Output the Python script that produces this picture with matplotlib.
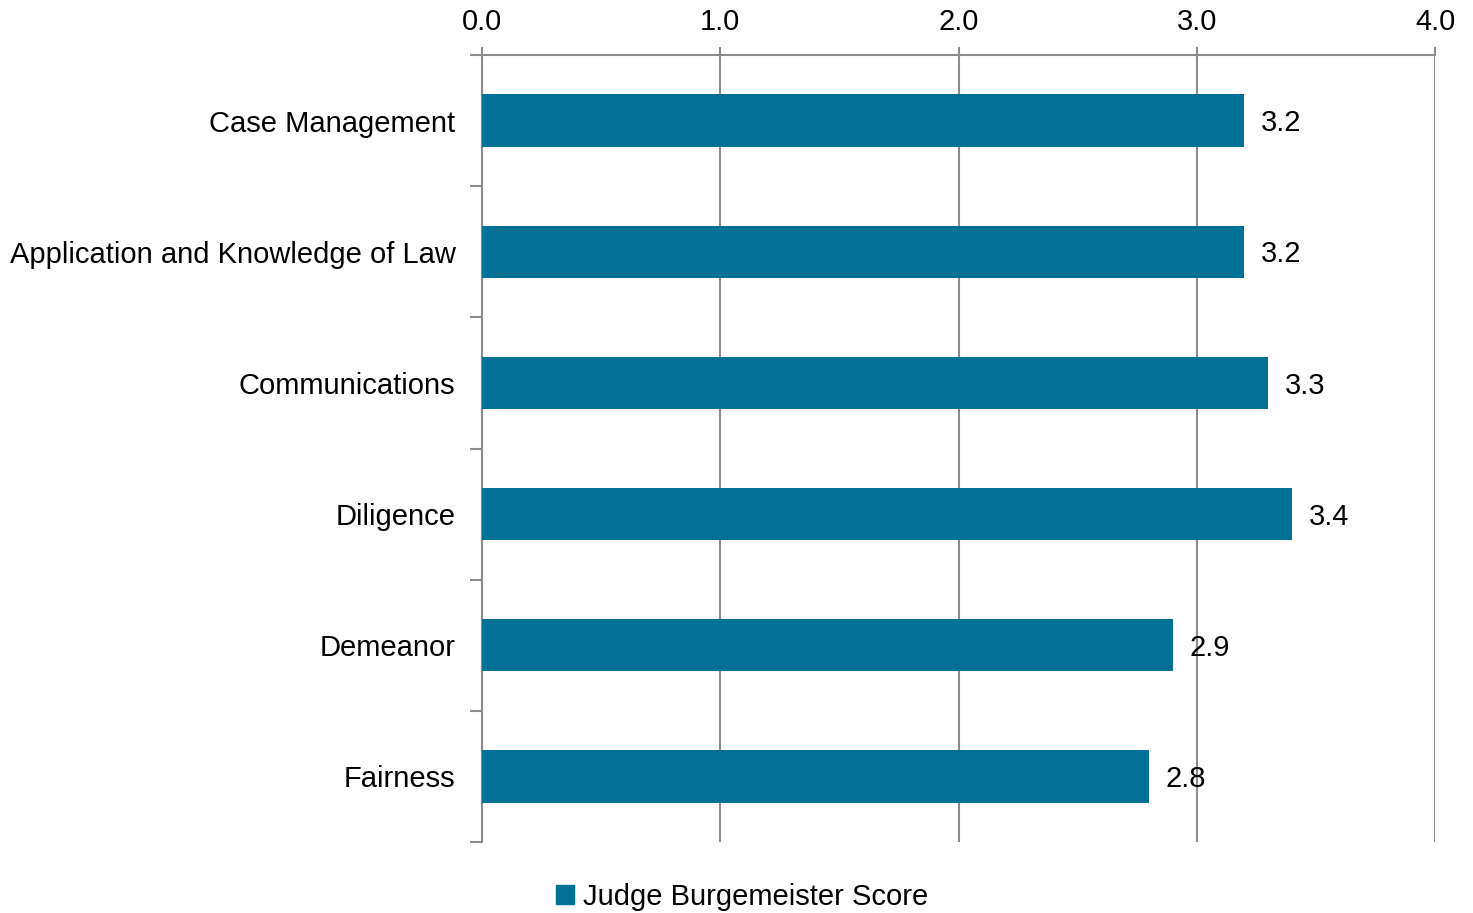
import matplotlib.pyplot as plt
from matplotlib.patches import Patch
import numpy as np

plt.rcParams['font.family'] = ['Liberation Sans', 'DejaVu Sans']

categories = ['Case Management', 'Application and Knowledge of Law', 'Communications',
              'Diligence', 'Demeanor', 'Fairness']
scores = [3.2, 3.2, 3.3, 3.4, 2.9, 2.8]
x_ticks = [0.0, 1.0, 2.0, 3.0, 4.0]
series_name = 'Judge Burgemeister Score'

bar_color = '#037096'
grid_color = '#8c8c8c'
fs = 21

fig = plt.figure(figsize=(14.73, 9.13), dpi=100)
ax = fig.add_axes([482 / 1473, 1 - 842 / 913, (1435 - 482) / 1473, (842 - 55) / 913])

y = np.arange(len(categories))
ax.barh(y, scores, height=0.4, color=bar_color, zorder=3)
ax.set_xlim(0, 4)
ax.set_ylim(len(categories) - 0.5, -0.5)

for yi, v in zip(y, scores):
    ax.text(v + 0.07, yi + 0.02, f'{v:.1f}', va='center', ha='left', fontsize=fs)

ax.xaxis.tick_top()
ax.set_xticks(x_ticks)
ax.set_xticklabels([f'{t:.1f}' for t in x_ticks], fontsize=fs)
ax.tick_params(axis='x', length=6, width=1.5, color=grid_color, pad=8)
ax.grid(axis='x', color=grid_color, linewidth=1.5, zorder=0)

# category labels between boundary ticks
ax.set_yticks(y)
ax.set_yticklabels(categories, fontsize=fs)
ax.tick_params(axis='y', length=0, pad=19)
ax.set_yticks(np.arange(-0.5, len(categories), 1), minor=True)
ax.tick_params(axis='y', which='minor', length=9, color=grid_color, width=1.5)

for s in ['right', 'bottom']:
    ax.spines[s].set_visible(False)
for s in ['left', 'top']:
    ax.spines[s].set_color(grid_color)
    ax.spines[s].set_linewidth(1.5)

fig.legend(handles=[Patch(color=bar_color, label=series_name)], loc='center',
           bbox_to_anchor=(742 / 1473, 1 - 897 / 913), frameon=False, fontsize=fs,
           handlelength=0.6, handleheight=0.6, handletextpad=0.3)

fig.savefig('out.png', dpi=100)
